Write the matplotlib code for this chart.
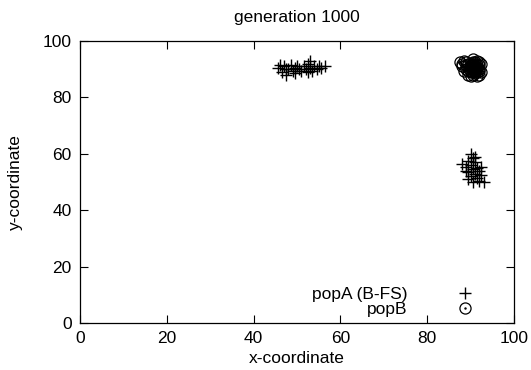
import matplotlib
matplotlib.use("Agg")
import matplotlib.pyplot as plt
from matplotlib.legend_handler import HandlerTuple

plt.rcParams['font.family'] = ['Liberation Sans', 'DejaVu Sans']

# popA (B-FS), upper-middle cluster and right cluster
popA_x = [45.5, 46.5, 47.0, 47.5, 48.0, 48.5, 49.0, 49.5, 50.0, 50.5, 51.0, 51.5, 52.0,
          52.5, 53.0, 53.5, 53.0, 54.0, 54.5, 55.0, 55.5, 46.0, 47.5, 49.5, 52.5, 56.5,
          90.0, 90.5, 89.5, 91.0, 88.0, 89.0, 90.0, 91.5, 90.5, 89.5, 91.0, 92.0, 92.5,
          90.0, 91.5, 89.5, 92.0, 93.0, 90.5, 91.0, 89.0, 92.5]
popA_y = [90.5, 89.0, 91.0, 88.0, 90.0, 91.5, 89.5, 90.5, 91.0, 90.0, 89.5, 91.0, 90.0,
          92.0, 90.5, 89.5, 93.0, 91.0, 90.0, 91.0, 90.5, 91.5, 90.0, 88.5, 89.0, 91.0,
          60.0, 58.5, 57.5, 57.0, 56.5, 55.5, 56.0, 55.0, 54.5, 53.5, 53.0, 54.0, 52.5,
          52.0, 51.5, 51.0, 50.5, 50.0, 50.0, 59.0, 54.0, 55.5]

# popB
popB_x = [87.5, 88.0, 88.5, 89.0, 89.5, 90.0, 90.5, 91.0, 91.5, 92.0, 92.5, 91.0, 90.0, 89.5,
          91.5, 92.0, 88.5, 90.5, 91.0, 89.0, 90.5, 91.5, 92.5, 90.0, 89.0, 92.0, 88.0, 90.5,
          90.0, 90.5, 91.0, 91.5, 90.0, 90.5, 91.0, 91.5, 90.0, 91.0, 89.5, 92.0, 90.5, 91.5,
          89.5, 90.5, 91.0, 92.0]
popB_y = [92.5, 91.0, 93.0, 90.0, 92.0, 91.0, 93.5, 92.0, 90.5, 91.5, 89.0, 88.5, 89.0, 88.0,
          87.5, 88.0, 89.5, 90.0, 89.5, 91.5, 91.5, 93.0, 92.0, 87.5, 92.5, 90.0, 92.0, 88.0,
          90.5, 90.5, 90.5, 90.5, 91.5, 92.5, 91.0, 91.5, 89.5, 90.0, 90.5, 89.5, 89.0, 89.0,
          89.5, 92.0, 92.5, 92.5]

fig, ax = plt.subplots(figsize=(5.31, 3.70), dpi=100)
fig.subplots_adjust(left=0.151, right=0.968, top=0.889, bottom=0.127)

fs = 12.5

hA, = ax.plot(popA_x, popA_y, linestyle='none', marker='+', ms=8.5, mew=1.0, color='black')
hB, = ax.plot(popB_x, popB_y, linestyle='none', marker='o', ms=8, mew=0.9,
              markerfacecolor='none', markeredgecolor='black')
hBd, = ax.plot(popB_x, popB_y, linestyle='none', marker='.', ms=1.5, color='black')

ax.set_xlim(0, 100)
ax.set_ylim(0, 100)
ax.set_xticks(range(0, 101, 20))
ax.set_yticks(range(0, 101, 20))
ax.tick_params(direction='in', top=True, right=True, length=6, width=0.8, labelsize=fs,
               pad=6)
for s in ax.spines.values():
    s.set_linewidth(0.9)

ax.set_title('generation 1000', fontsize=fs, pad=14)
ax.set_xlabel('x-coordinate', fontsize=fs, labelpad=3)
ax.set_ylabel('y-coordinate', fontsize=fs, labelpad=14)

ax.legend([hA, (hB, hBd)], ['popA (B-FS)', 'popB'],
          handler_map={tuple: HandlerTuple(ndivide=1, pad=0)},
          loc='lower right', frameon=False, markerfirst=False, fontsize=fs,
          handlelength=1.0, handletextpad=2.8, labelspacing=0.0,
          borderpad=0, borderaxespad=0, bbox_to_anchor=(0.907, 0.02))

fig.savefig('out.png', dpi=100)
